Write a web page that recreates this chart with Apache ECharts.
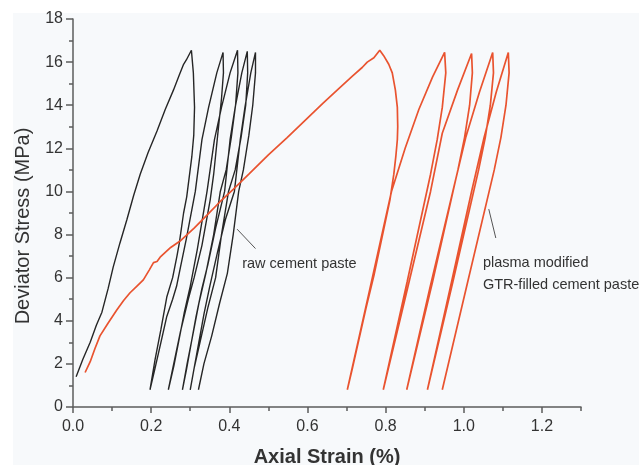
<!DOCTYPE html>
<html>
<head>
<meta charset="utf-8">
<script src="https://cdn.jsdelivr.net/npm/echarts@6/dist/echarts.min.js"></script>
<style>
  html, body { margin: 0; padding: 0; background: #fff; }
  #chart { width: 639px; height: 465px; }
</style>
</head>
<body>
<div id="chart"></div>
<script>
// tick values
const xMajorTicks = [0, 0.2, 0.4, 0.6, 0.8, 1.0, 1.2];
const xMinorTicks = [0.1, 0.3, 0.5, 0.7, 0.9, 1.1, 1.3];
const yMajorTicks = [0, 2, 4, 6, 8, 10, 12, 14, 16, 18];
const yMinorTicks = [1, 3, 5, 7, 9, 11, 13, 15, 17];

// raw cement paste, [strain %, stress MPa], in loading order
const rawLoad1 = [[0.008,1.4],[0.025,2.2],[0.044,3.0],[0.06,3.8],[0.074,4.4],[0.09,5.5],[0.103,6.5],[0.12,7.6],[0.138,8.7],[0.155,9.8],[0.172,10.8],[0.192,11.8],[0.215,12.8],[0.236,13.8],[0.257,14.7],[0.272,15.4],[0.283,15.9],[0.29,16.1],[0.303,16.55]];
const rawUnload1 = [[0.308,15.5],[0.311,13.9],[0.309,12.6],[0.304,11.6],[0.291,9.75],[0.283,9.0],[0.272,7.6],[0.266,7.0],[0.255,6.0],[0.24,5.1],[0.225,3.6],[0.21,2.2],[0.197,0.8]];
const rawReload2 = [[0.21,1.8],[0.225,3.0],[0.24,4.2],[0.255,5.0],[0.265,5.6],[0.274,6.4],[0.29,7.8],[0.313,10.0],[0.33,12.4],[0.347,13.9],[0.368,15.5],[0.384,16.45]];
const rawUnload2 = [[0.385,15.5],[0.38,14.3],[0.373,13.1],[0.36,10.8],[0.351,9.6],[0.33,7.5],[0.31,6.0],[0.295,5.0],[0.275,3.5],[0.26,2.2],[0.244,0.8]];
const rawReload3 = [[0.258,1.9],[0.27,3.0],[0.285,4.4],[0.3,5.6],[0.318,7.3],[0.343,10.0],[0.362,12.4],[0.38,13.9],[0.402,15.5],[0.421,16.55]];
const rawUnload3 = [[0.422,15.5],[0.416,14.0],[0.405,12.5],[0.392,11.0],[0.377,10.0],[0.36,8.0],[0.34,6.2],[0.322,4.8],[0.305,3.2],[0.292,2.0],[0.28,0.8]];
const rawReload4 = [[0.29,1.7],[0.302,2.9],[0.315,4.2],[0.33,5.5],[0.345,6.6],[0.365,8.3],[0.388,10.0],[0.402,12.4],[0.415,13.9],[0.432,15.5],[0.446,16.5]];
const rawUnload4 = [[0.447,15.5],[0.442,14.0],[0.43,12.5],[0.415,11.0],[0.398,10.0],[0.38,8.0],[0.365,6.0],[0.345,4.6],[0.325,3.0],[0.31,1.8],[0.30,0.8]];
const rawReload5 = [[0.31,1.8],[0.322,3.0],[0.335,4.3],[0.35,5.6],[0.37,7.2],[0.39,8.7],[0.413,10.0],[0.428,12.4],[0.44,13.9],[0.455,15.5],[0.467,16.45]];
const rawUnload5 = [[0.467,15.5],[0.46,14.0],[0.45,12.6],[0.436,11.0],[0.424,10.0],[0.41,8.0],[0.395,6.2],[0.375,4.8],[0.355,3.3],[0.335,2.0],[0.321,0.8]];

// plasma modified GTR-filled cement paste
const gtrLoad1 = [[0.031,1.6],[0.044,2.1],[0.056,2.7],[0.069,3.3],[0.09,3.9],[0.112,4.5],[0.13,4.95],[0.146,5.3],[0.163,5.6],[0.18,5.9],[0.195,6.35],[0.206,6.7],[0.215,6.75],[0.223,6.95],[0.25,7.4],[0.274,7.7],[0.31,8.3],[0.343,8.9],[0.375,9.5],[0.41,10.1],[0.45,10.8],[0.5,11.7],[0.548,12.5],[0.6,13.4],[0.64,14.1],[0.676,14.7],[0.715,15.35],[0.74,15.75],[0.753,16.0],[0.77,16.2],[0.785,16.55]];
const gtrUnload1 = [[0.795,16.3],[0.808,15.9],[0.817,15.5],[0.825,14.7],[0.83,13.9],[0.831,13.0],[0.83,12.4],[0.826,11.6],[0.821,10.8],[0.811,9.6],[0.79,7.8],[0.77,6.1],[0.75,4.6],[0.73,3.0],[0.715,1.8],[0.702,0.8]];
const gtrReload2 = [[0.76,5.5],[0.815,10.0],[0.85,12.0],[0.885,13.8],[0.92,15.3],[0.951,16.45]];
const gtrUnload2 = [[0.954,15.5],[0.945,13.9],[0.932,12.4],[0.915,10.8],[0.855,5.8],[0.794,0.8]];
const gtrReload3 = [[0.856,5.5],[0.915,10.0],[0.945,12.7],[0.984,14.7],[1.02,16.4]];
const gtrUnload3 = [[1.022,15.5],[1.015,14.0],[1.002,12.5],[0.985,11.0],[0.92,5.8],[0.854,0.8]];
const gtrReload4 = [[0.913,5.5],[0.972,10.0],[1.005,12.5],[1.04,14.6],[1.074,16.45]];
const gtrUnload4 = [[1.076,15.5],[1.068,14.0],[1.055,12.5],[1.038,11.0],[0.972,5.8],[0.907,0.8]];
const gtrReload5 = [[0.965,5.5],[1.02,10.0],[1.052,12.5],[1.083,14.6],[1.114,16.45]];
const gtrUnload5 = [[1.116,15.5],[1.108,14.0],[1.095,12.5],[1.078,11.0],[1.01,5.8],[0.945,0.8]];

const rawCurve = [].concat(rawLoad1, rawUnload1, rawReload2, rawUnload2, rawReload3, rawUnload3, rawReload4, rawUnload4, rawReload5, rawUnload5);
const gtrCurve = [].concat(gtrLoad1, gtrUnload1, gtrReload2, gtrUnload2, gtrReload3, gtrUnload3, gtrReload4, gtrUnload4, gtrReload5, gtrUnload5);

const font = '"Liberation Sans", Arial, sans-serif';
const axisColor = '#5c5c5c';
const textColor = '#333';
const tickStyle = { color: axisColor, width: 1.5 };

const chart = echarts.init(document.getElementById('chart'));
const option = {
  backgroundColor: '#f7f9fb',
  animation: false,
  grid: [
    { left: 73, right: 58, top: 19, bottom: 58, outerBoundsMode: 'none' },
    { left: 73, right: 58, top: 19, bottom: 58, outerBoundsMode: 'none' }
  ],
  xAxis: [
    {
      type: 'value', gridIndex: 0, min: 0, max: 1.3,
      splitLine: { show: false },
      axisLine: { lineStyle: tickStyle },
      axisTick: { customValues: xMajorTicks, length: 6, lineStyle: tickStyle },
      axisLabel: { customValues: xMajorTicks, formatter: v => v.toFixed(1), color: textColor, fontSize: 16, margin: 12, fontFamily: font },
      name: 'Axial Strain (%)', nameLocation: 'middle', nameGap: 40,
      nameTextStyle: { color: textColor, fontSize: 20, fontWeight: 'bold', fontFamily: font }
    },
    {
      type: 'value', gridIndex: 1, min: 0, max: 1.3,
      splitLine: { show: false }, axisLine: { show: false }, axisLabel: { show: false },
      axisTick: { customValues: xMinorTicks, length: 4, lineStyle: tickStyle }
    }
  ],
  yAxis: [
    {
      type: 'value', gridIndex: 0, min: 0, max: 18, interval: 2,
      splitLine: { show: false },
      axisLine: { show: true, lineStyle: tickStyle },
      axisTick: { show: true, customValues: yMajorTicks, length: 7, lineStyle: tickStyle },
      axisLabel: { customValues: yMajorTicks, color: textColor, fontSize: 16, margin: 10, fontFamily: font },
      name: 'Deviator Stress (MPa)', nameLocation: 'middle', nameGap: 40,
      nameTextStyle: { color: textColor, fontSize: 20, fontFamily: font, padding: [0, 26, 0, 0] }
    },
    {
      type: 'value', gridIndex: 1, min: 0, max: 18,
      splitLine: { show: false }, axisLine: { show: false }, axisLabel: { show: false },
      axisTick: { show: true, customValues: yMinorTicks, length: 4, lineStyle: tickStyle }
    }
  ],
  series: [
    {
      name: 'raw cement paste', type: 'line', xAxisIndex: 0, yAxisIndex: 0,
      data: rawCurve, showSymbol: false, symbol: 'none',
      lineStyle: { color: '#262626', width: 1.4 }
    },
    {
      name: 'plasma modified GTR-filled cement paste', type: 'line', xAxisIndex: 0, yAxisIndex: 0,
      data: gtrCurve, showSymbol: false, symbol: 'none',
      lineStyle: { color: '#e9532f', width: 1.7 }
    }
  ]
};
chart.setOption(option);

// annotations placed in data coordinates
const px = pt => chart.convertToPixel({ gridIndex: 0 }, pt);
const rawLeader = [px([0.42, 8.25]), px([0.467, 7.35])];
const gtrLeader = [px([1.064, 9.18]), px([1.082, 7.84])];
const rawText = px([0.433, 6.65]);
const gtrText1 = px([1.049, 6.7]);
const gtrText2 = px([1.049, 5.66]);
const labelStyle = { fill: '#333', fontSize: 14.5, fontFamily: font, verticalAlign: 'middle', align: 'left' };

chart.setOption({
  graphic: [
    { type: 'rect', shape: { x: 0, y: 0, width: 639, height: 13 }, style: { fill: '#fff' }, silent: true },
    { type: 'rect', shape: { x: 0, y: 0, width: 13, height: 465 }, style: { fill: '#fff' }, silent: true },
    { type: 'line', shape: { x1: rawLeader[0][0], y1: rawLeader[0][1], x2: rawLeader[1][0], y2: rawLeader[1][1] }, style: { stroke: '#555', lineWidth: 1 } },
    { type: 'line', shape: { x1: gtrLeader[0][0], y1: gtrLeader[0][1], x2: gtrLeader[1][0], y2: gtrLeader[1][1] }, style: { stroke: '#555', lineWidth: 1 } },
    { type: 'text', x: rawText[0], y: rawText[1], style: Object.assign({ text: 'raw cement paste' }, labelStyle) },
    { type: 'text', x: gtrText1[0], y: gtrText1[1], style: Object.assign({ text: 'plasma modified' }, labelStyle) },
    { type: 'text', x: gtrText2[0], y: gtrText2[1], style: Object.assign({ text: 'GTR-filled cement paste' }, labelStyle) }
  ]
});
</script>
</body>
</html>
